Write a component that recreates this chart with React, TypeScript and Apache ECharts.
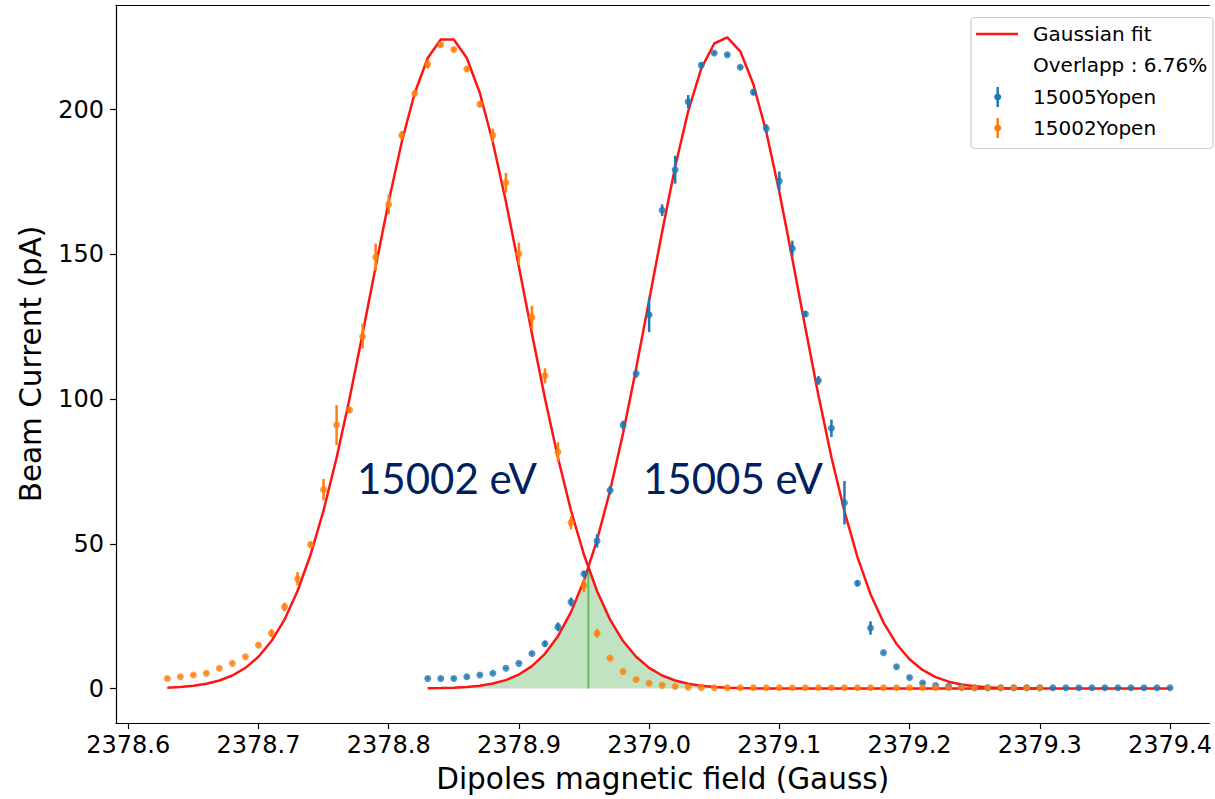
import React, { useEffect, useRef } from "react";
import * as echarts from "echarts";

// ---- data ----
const fieldOrange = [
  2378.63, 2378.64, 2378.65, 2378.66, 2378.67, 2378.68, 2378.69, 2378.7, 2378.71, 2378.72,
  2378.73, 2378.74, 2378.75, 2378.76, 2378.77, 2378.78, 2378.79, 2378.8, 2378.81, 2378.82,
  2378.83, 2378.84, 2378.85, 2378.86, 2378.87, 2378.88, 2378.89, 2378.9, 2378.91, 2378.92,
  2378.93, 2378.94, 2378.95, 2378.96, 2378.97, 2378.98, 2378.99, 2379.0, 2379.01, 2379.02,
  2379.03, 2379.04, 2379.05, 2379.06, 2379.07, 2379.08, 2379.09, 2379.1, 2379.11, 2379.12,
  2379.13, 2379.14, 2379.15, 2379.16, 2379.17, 2379.18, 2379.19, 2379.2, 2379.21, 2379.22,
  2379.23, 2379.24, 2379.25, 2379.26, 2379.27, 2379.28, 2379.29, 2379.3,
];
const currentOrange = [
  3.5, 4.1, 4.7, 5.3, 7.0, 8.7, 11.0, 15.0, 19.1, 28.2,
  37.9, 49.7, 68.7, 91.0, 96.2, 121.7, 149.0, 167.2, 191.1, 205.5,
  215.6, 222.4, 220.7, 214.0, 201.8, 191.1, 174.7, 150.2, 128.2, 108.0,
  81.7, 57.3, 35.6, 19.1, 10.5, 5.9, 3.1, 1.8, 1.1, 0.7,
  0.5, 0.4, 0.3, 0.3, 0.3, 0.3, 0.3, 0.3, 0.3, 0.3,
  0.3, 0.3, 0.3, 0.3, 0.3, 0.3, 0.3, 0.3, 0.3, 0.3,
  0.3, 0.3, 0.3, 0.3, 0.3, 0.3, 0.3, 0.3,
];
const errorOrange = [
  0.3, 0.3, 0.3, 0.3, 0.3, 0.3, 0.3, 0.3, 1.4, 1.5,
  2.3, 1.0, 3.7, 6.9, 1.0, 4.3, 4.7, 3.4, 1.5, 1.0,
  1.4, 0.8, 0.8, 1.0, 1.0, 2.3, 3.4, 3.8, 4.0, 2.6,
  3.4, 2.3, 2.3, 1.5, 0.3, 0.3, 0.3, 0.3, 0.3, 0.3,
  0.3, 0.3, 0.3, 0.3, 0.3, 0.3, 0.3, 0.3, 0.3, 0.3,
  0.3, 0.3, 0.3, 0.3, 0.3, 0.3, 0.3, 0.3, 0.3, 0.3,
  0.3, 0.3, 0.3, 0.3, 0.3, 0.3, 0.3, 0.3,
];
const fitOrange = [
  0.29, 0.54, 0.96, 1.65, 2.77, 4.51, 7.14, 11.0, 16.4, 23.8,
  33.7, 46.2, 61.5, 79.7, 100.3, 122.6, 145.7, 168.2, 188.7, 205.7,
  217.8, 224.2, 224.2, 217.8, 205.7, 188.7, 168.2, 145.7, 122.6, 100.3,
  79.7, 61.5, 46.2, 33.7, 23.8, 16.4, 11.0, 7.14, 4.51, 2.77,
  1.65, 0.96, 0.54, 0.29, 0.16, 0.08, 0.04, 0.02, 0.01, 0,
  0, 0, 0, 0, 0, 0, 0, 0, 0, 0,
  0, 0, 0, 0, 0, 0, 0, 0,
];

const fieldBlue = [
  2378.83, 2378.84, 2378.85, 2378.86, 2378.87, 2378.88, 2378.89, 2378.9, 2378.91, 2378.92,
  2378.93, 2378.94, 2378.95, 2378.96, 2378.97, 2378.98, 2378.99, 2379.0, 2379.01, 2379.02,
  2379.03, 2379.04, 2379.05, 2379.06, 2379.07, 2379.08, 2379.09, 2379.1, 2379.11, 2379.12,
  2379.13, 2379.14, 2379.15, 2379.16, 2379.17, 2379.18, 2379.19, 2379.2, 2379.21, 2379.22,
  2379.23, 2379.24, 2379.25, 2379.26, 2379.27, 2379.28, 2379.29, 2379.3, 2379.31, 2379.32,
  2379.33, 2379.34, 2379.35, 2379.36, 2379.37, 2379.38, 2379.39, 2379.4,
];
const currentBlue = [
  3.5, 3.5, 3.5, 4.1, 4.7, 5.3, 7.0, 8.7, 12.1, 15.5,
  21.3, 29.9, 39.6, 51.0, 68.5, 91.0, 108.8, 129.1, 165.2, 179.2,
  202.7, 215.3, 219.5, 218.9, 214.6, 206.0, 193.4, 175.3, 152.0, 129.4,
  106.4, 89.9, 64.2, 36.4, 20.9, 12.4, 7.5, 3.8, 1.9, 1.0,
  0.8, 0.5, 0.3, 0.3, 0.3, 0.3, 0.3, 0.3, 0.3, 0.3,
  0.3, 0.3, 0.3, 0.3, 0.3, 0.3, 0.3, 0.3,
];
const errorBlue = [
  0.3, 0.3, 0.3, 0.3, 0.3, 0.3, 0.3, 0.3, 0.3, 1.0,
  1.5, 1.5, 1.0, 2.3, 1.5, 1.5, 1.5, 6.0, 2.0, 4.8,
  2.3, 1.0, 0.5, 0.5, 0.5, 1.0, 1.5, 3.3, 2.7, 1.0,
  1.5, 3.0, 7.5, 1.0, 2.3, 0.3, 0.3, 0.3, 0.3, 0.3,
  0.3, 0.3, 0.3, 0.3, 0.3, 0.3, 0.3, 0.3, 0.3, 0.3,
  0.3, 0.3, 0.3, 0.3, 0.3, 0.3, 0.3, 0.3,
];
const fitBlue = [
  0.08, 0.15, 0.29, 0.54, 0.98, 1.72, 2.92, 4.83, 7.73, 12.0,
  18.1, 26.4, 37.4, 51.3, 68.3, 88.2, 110.5, 134.1, 157.8, 180.2,
  199.4, 214.1, 222.8, 224.9, 220.1, 208.8, 192.2, 171.5, 148.4, 124.5,
  101.3, 79.9, 61.2, 45.4, 32.6, 22.8, 15.4, 10.1, 6.43, 3.96,
  2.37, 1.37, 0.77, 0.42, 0.22, 0.11, 0.06, 0.03, 0.01, 0,
  0, 0, 0, 0, 0, 0, 0, 0,
];

const xTicks = [2378.6, 2378.7, 2378.8, 2378.9, 2379.0, 2379.1, 2379.2, 2379.3, 2379.4];
const yTicks = [0, 50, 100, 150, 200];
const legendLabels = ["Gaussian fit", "Overlapp : 6.76%", "15005Yopen", "15002Yopen"];
const peakLabels = ["15002 eV", "15005 eV"];

const BLUE = "#1f77b4";
const ORANGE = "#ff7f0e";
const FIT = "#ff1414";
const FONT = "DejaVu Sans";
const X_MIN = 2378.5906;
const X_MAX = 2379.4302;

function buildOverlap() {
  // fill under min(fitOrange, fitBlue) on the shared field grid, with the crossing point inserted
  const offset = fieldOrange.indexOf(fieldBlue[0]);
  const pts: number[][] = [];
  let cross: number[] | null = null;
  const n = fieldOrange.length - offset;
  for (let i = 0; i < n; i++) {
    const x = fieldBlue[i];
    const o = fitOrange[i + offset];
    const b = fitBlue[i];
    if (i > 0) {
      const po = fitOrange[i + offset - 1];
      const pb = fitBlue[i - 1];
      const d0 = po - pb;
      const d1 = o - b;
      if (d0 * d1 < 0) {
        const t = d0 / (d0 - d1);
        const px = fieldBlue[i - 1] + t * (x - fieldBlue[i - 1]);
        const py = po + t * (o - po);
        cross = [px, py];
        pts.push(cross);
      }
    }
    pts.push([x, Math.min(o, b)]);
  }
  return { pts, cross };
}

function errSeries(xs: number[], ys: number[], es: number[], color: string, z: number) {
  return {
    type: "custom",
    data: xs.map((x, i) => [x, ys[i] - es[i], ys[i] + es[i]]),
    encode: { x: 0, y: [1, 2] },
    clip: true,
    z,
    renderItem: (params: any, api: any) => {
      const x = api.value(0);
      const p1 = api.coord([x, api.value(1)]);
      const p2 = api.coord([x, api.value(2)]);
      return {
        type: "line",
        shape: { x1: p1[0], y1: p1[1], x2: p2[0], y2: p2[1] },
        style: { stroke: color, lineWidth: 2.5 },
      };
    },
  };
}

export default function App() {
  const ref = useRef<HTMLDivElement>(null);

  useEffect(() => {
    if (!ref.current) return;
    const chart = echarts.init(ref.current, null, { renderer: "svg" });
    const { pts, cross } = buildOverlap();
    const legendRows = [34, 65, 97, 128];
    const legendTextX = 1033;
    const handleX = 997.7;

    const option: any = {
      animation: false,
      backgroundColor: "#ffffff",
      grid: {
        left: 116,
        top: 5,
        right: 0,
        bottom: 71.3,
        show: false,
      },
      xAxis: [
        {
          type: "value",
          min: X_MIN,
          max: X_MAX,
          name: "Dipoles magnetic field (Gauss)",
          nameLocation: "middle",
          nameGap: 41,
          nameTextStyle: { fontSize: 29.5, fontFamily: FONT, color: "#000" },
          axisLine: { show: true, onZero: false, lineStyle: { color: "#000", width: 1.2 } },
          axisTick: { show: true, length: 6, customValues: xTicks, lineStyle: { color: "#000", width: 1.2 } },
          axisLabel: {
            customValues: xTicks,
            fontSize: 24,
            fontFamily: FONT,
            color: "#000",
            margin: 10,
            formatter: (v: number) => v.toFixed(1),
          },
          splitLine: { show: false },
        },
        {
          type: "value",
          position: "top",
          min: X_MIN,
          max: X_MAX,
          axisLine: { show: true, onZero: false, lineStyle: { color: "#000", width: 1.2 } },
          axisTick: { show: false },
          axisLabel: { show: false },
          splitLine: { show: false },
        },
      ],
      yAxis: {
        type: "value",
        min: -11.9,
        max: 236.1,
        name: "Beam Current (pA)",
        nameLocation: "middle",
        nameGap: 70,
        nameTextStyle: { fontSize: 29.5, fontFamily: FONT, color: "#000" },
        axisLine: { show: true, onZero: false, lineStyle: { color: "#000", width: 1.2 } },
        axisTick: { show: true, length: 6, customValues: yTicks, lineStyle: { color: "#000", width: 1.2 } },
        axisLabel: {
          customValues: yTicks,
          fontSize: 24,
          fontFamily: FONT,
          color: "#000",
          margin: 12,
          formatter: (v: number) => String(v),
        },
        splitLine: { show: false },
      },
      series: [
        {
          type: "line",
          name: "overlap",
          data: pts,
          symbol: "none",
          lineStyle: { width: 1.2, color: "rgba(44,160,44,0.5)" },
          areaStyle: { color: "rgba(44,160,44,0.42)", origin: "auto" },
          z: 1,
        },
        {
          type: "line",
          name: "overlap line",
          data: cross ? [[cross[0], 0], cross] : [],
          symbol: "none",
          lineStyle: { width: 2, color: "rgba(44,160,44,0.6)" },
          z: 1,
        },
        {
          type: "line",
          name: "Gaussian fit",
          data: fieldOrange.map((x, i) => [x, fitOrange[i]]),
          symbol: "none",
          lineStyle: { width: 2.5, color: FIT },
          z: 2,
        },
        {
          type: "line",
          name: "Gaussian fit (15005)",
          data: fieldBlue.map((x, i) => [x, fitBlue[i]]),
          symbol: "none",
          lineStyle: { width: 2.5, color: FIT },
          z: 2,
        },
        errSeries(fieldBlue, currentBlue, errorBlue, BLUE, 3),
        {
          type: "scatter",
          name: "15005Yopen",
          data: fieldBlue.map((x, i) => [x, currentBlue[i]]),
          symbol: "circle",
          symbolSize: 7,
          itemStyle: { color: BLUE },
          z: 3,
        },
        errSeries(fieldOrange, currentOrange, errorOrange, ORANGE, 4),
        {
          type: "scatter",
          name: "15002Yopen",
          data: fieldOrange.map((x, i) => [x, currentOrange[i]]),
          symbol: "circle",
          symbolSize: 7,
          itemStyle: { color: ORANGE },
          z: 4,
        },
      ],
      graphic: [
        {
          type: "text",
          x: 357,
          y: 478,
          style: { text: peakLabels[0], fill: "#002060", font: "42px Lato", verticalAlign: "middle" },
          z: 20,
        },
        {
          type: "text",
          x: 643,
          y: 478,
          style: { text: peakLabels[1], fill: "#002060", font: "42px Lato", verticalAlign: "middle" },
          z: 20,
        },
        {
          type: "rect",
          shape: { x: 971, y: 17.5, width: 242, height: 131, r: 4 },
          style: { fill: "rgba(255,255,255,0.8)", stroke: "#cccccc", lineWidth: 1.2 },
          z: 30,
        },
        {
          type: "line",
          shape: { x1: 976, y1: legendRows[0], x2: 1018, y2: legendRows[0] },
          style: { stroke: FIT, lineWidth: 2.5 },
          z: 31,
        },
        {
          type: "line",
          shape: { x1: handleX, y1: legendRows[2] - 10, x2: handleX, y2: legendRows[2] + 10 },
          style: { stroke: BLUE, lineWidth: 2.5 },
          z: 31,
        },
        {
          type: "circle",
          shape: { cx: handleX, cy: legendRows[2], r: 3.5 },
          style: { fill: BLUE },
          z: 31,
        },
        {
          type: "line",
          shape: { x1: handleX, y1: legendRows[3] - 10, x2: handleX, y2: legendRows[3] + 10 },
          style: { stroke: ORANGE, lineWidth: 2.5 },
          z: 31,
        },
        {
          type: "circle",
          shape: { cx: handleX, cy: legendRows[3], r: 3.5 },
          style: { fill: ORANGE },
          z: 31,
        },
        ...legendLabels.map((t, i) => ({
          type: "text",
          x: legendTextX,
          y: legendRows[i],
          style: { text: t, fill: "#000", font: `20px "${FONT}"`, verticalAlign: "middle" },
          z: 31,
        })),
      ],
    };
    chart.setOption(option);
    return () => chart.dispose();
  }, []);

  return (
    <div
      ref={ref}
      style={{ position: "absolute", left: 0, top: 0, width: 1215, height: 799, background: "#fff" }}
    />
  );
}
